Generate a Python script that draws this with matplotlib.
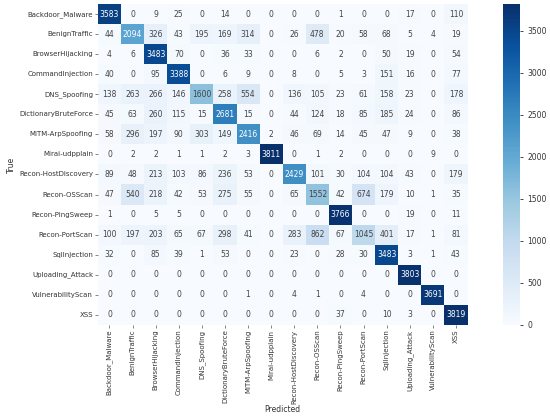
import numpy as np
import seaborn as sns
from matplotlib import pyplot as plt

classes = ['Backdoor_Malware', 'BenignTraffic', 'BrowserHijacking', 'CommandInjection',
           'DNS_Spoofing', 'DictionaryBruteForce', 'MITM-ArpSpoofing', 'Mirai-udpplain',
           'Recon-HostDiscovery', 'Recon-OSScan', 'Recon-PingSweep', 'Recon-PortScan',
           'SqlInjection', 'Uploading_Attack', 'VulnerabilityScan', 'XSS']

backdoor_malware = [3583, 0, 9, 25, 0, 14, 0, 0, 0, 0, 1, 0, 0, 17, 0, 110]
benign_traffic = [44, 2094, 326, 43, 195, 169, 314, 0, 26, 478, 20, 58, 68, 5, 4, 19]
browser_hijacking = [4, 6, 3483, 70, 0, 36, 33, 0, 0, 6, 2, 0, 50, 19, 0, 54]
command_injection = [40, 0, 95, 3388, 0, 6, 9, 0, 8, 0, 5, 3, 151, 16, 0, 77]
dns_spoofing = [138, 263, 266, 146, 1600, 258, 554, 0, 136, 105, 23, 61, 158, 23, 0, 178]
dict_brute = [45, 63, 260, 115, 15, 2681, 15, 0, 44, 124, 18, 85, 185, 24, 0, 86]
mitm_arp = [58, 296, 197, 90, 303, 149, 2416, 2, 46, 69, 14, 45, 47, 9, 0, 38]
mirai_udp = [0, 2, 2, 1, 1, 2, 3, 3811, 0, 1, 2, 0, 0, 0, 9, 0]
recon_host = [89, 48, 213, 103, 86, 236, 53, 0, 2429, 101, 30, 104, 104, 43, 0, 179]
recon_os = [47, 540, 218, 42, 53, 275, 55, 0, 65, 1552, 42, 674, 179, 10, 1, 35]
recon_ping = [1, 0, 5, 5, 0, 0, 0, 0, 0, 0, 3766, 0, 0, 19, 0, 11]
recon_port = [100, 197, 203, 65, 67, 298, 41, 0, 283, 862, 67, 1045, 401, 17, 1, 81]
sql_injection = [32, 0, 85, 39, 1, 53, 0, 0, 23, 0, 28, 30, 3483, 3, 1, 43]
uploading = [0, 0, 0, 0, 0, 0, 0, 0, 0, 0, 0, 0, 0, 3803, 0, 0]
vuln_scan = [0, 0, 0, 0, 0, 0, 1, 0, 4, 1, 0, 4, 0, 0, 3691, 0]
xss = [0, 0, 0, 0, 0, 0, 0, 0, 0, 0, 37, 0, 10, 3, 0, 3819]

cm = np.array([backdoor_malware, benign_traffic, browser_hijacking, command_injection,
               dns_spoofing, dict_brute, mitm_arp, mirai_udp, recon_host, recon_os,
               recon_ping, recon_port, sql_injection, uploading, vuln_scan, xss])

fig = plt.figure(figsize=(5.5, 4.19), dpi=100)
ax = fig.add_axes([0.178, 0.225, 0.672, 0.765])
cax = fig.add_axes([0.915, 0.225, 0.03, 0.765])

sns.heatmap(cm, annot=True, fmt='d', cmap='Blues', ax=ax, cbar_ax=cax,
            xticklabels=classes, yticklabels=classes,
            annot_kws={'fontsize': 5.5})

# light cells get grey text like the reference, dark cells keep white
for t in ax.texts:
    if t.get_color() != 'w' and t.get_color() != '#ffffff':
        t.set_color('#444444')

ax.tick_params(axis='both', labelsize=5, length=2, width=0.5, pad=1.5,
               color='#555555', labelcolor='#333333')
ax.set_xticklabels(classes, rotation=90)
ax.set_yticklabels(classes, rotation=0)
ax.set_xlabel('Predicted', fontsize=5.5, labelpad=1, color='#333333')
ax.set_ylabel('True', fontsize=5.5, labelpad=2, color='#333333')
cax.tick_params(labelsize=5.5, length=2, width=0.5, labelcolor='#333333')
for s in cax.spines.values():
    s.set_visible(False)

plt.savefig('out.png', dpi=100)
